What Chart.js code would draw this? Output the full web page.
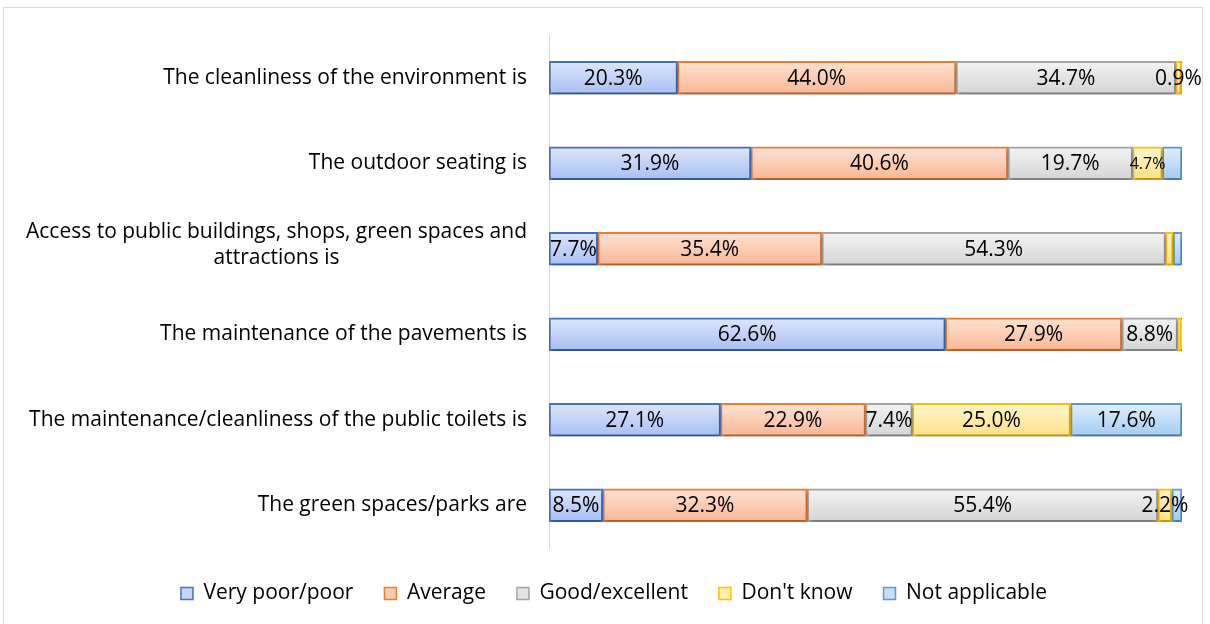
<!DOCTYPE html>
<html>
<head>
<meta charset="utf-8">
<script src="https://cdn.jsdelivr.net/npm/chart.js@4"></script>
<style>
  html, body { margin: 0; padding: 0; background: #fff; }
  #wrap { position: relative; width: 1210px; height: 624px; }
  #frame { position: absolute; left: 3px; top: 7px; width: 1200px; height: 630px; border: 1px solid #d9d9d9; box-sizing: border-box; }
  canvas { position: absolute; left: 0; top: 0; }
</style>
</head>
<body>
<div id="wrap">
  <div id="frame"></div>
  <canvas id="chart" width="1210" height="624"></canvas>
</div>
<script>
const categories = [
  ["The cleanliness of the environment is"],
  ["The outdoor seating is"],
  ["Access to public buildings, shops, green spaces and", "attractions is"],
  ["The maintenance of the pavements is"],
  ["The maintenance/cleanliness of the public toilets is"],
  ["The green spaces/parks are"]
];
const seriesNames = ["Very poor/poor", "Average", "Good/excellent", "Don't know", "Not applicable"];

const veryPoor    = [20.3, 31.9, 7.7, 62.6, 27.1, 8.5];
const average     = [44.0, 40.6, 35.4, 27.9, 22.9, 32.3];
const good        = [34.7, 19.7, 54.3, 8.8, 7.4, 55.4];
const dontKnow    = [0.9, 4.7, 1.2, 0.5, 25.0, 2.2];
const notApplic   = [0.1, 3.1, 1.4, 0.2, 17.6, 1.6];

// which value labels are drawn (per series, per row)
const showLabel = [
  [true, true, true, true, true, true],
  [true, true, true, true, true, true],
  [true, true, true, true, true, true],
  [true, true, false, false, true, true],
  [false, false, false, false, true, false]
];

const borders = ["#4472C4", "#ED7D31", "#A5A5A5", "#FFC000", "#5B9BD5"];
const topFill = ["#dde6fa", "#fde3d6", "#f3f3f3", "#fff5cf", "#e1effc"];
const botFill = ["#a8bff3", "#f9b692", "#d4d4d4", "#ffe185", "#a3cbf2"];
const legendFill = ["#c7d5f7", "#fccbb0", "#e3e3e3", "#ffedaa", "#c4def7"];

const FONT = "'Open Sans', sans-serif";
const FONT_SIZE = 21;
const BAR_H = 33;

function gradientFor(i) {
  return function (ctx) {
    const chart = ctx.chart;
    const y = chart.scales.y;
    if (!y || ctx.dataIndex === undefined) return legendFill[i];
    const c = y.getPixelForValue(ctx.dataIndex);
    const g = chart.ctx.createLinearGradient(0, c - BAR_H / 2, 0, c + BAR_H / 2);
    g.addColorStop(0, topFill[i]);
    g.addColorStop(1, botFill[i]);
    return g;
  };
}

const allSeries = [veryPoor, average, good, dontKnow, notApplic];

const datasets = allSeries.map((vals, i) => ({
  label: seriesNames[i],
  data: vals,
  backgroundColor: gradientFor(i),
  borderColor: borders[i],
  borderWidth: 2,
  borderSkipped: false,
  barThickness: BAR_H
}));

// shadows under the bars, value labels, and centred category labels
const barExtras = {
  id: "barExtras",
  beforeDatasetsDraw(chart) {
    const c = chart.ctx;
    c.save();
    c.shadowColor = "rgba(0,0,0,0.28)";
    c.shadowBlur = 4;
    c.shadowOffsetX = 1;
    c.shadowOffsetY = 3;
  },
  afterDatasetsDraw(chart) {
    const c = chart.ctx;
    c.restore();
    c.save();
    c.fillStyle = "#000";
    c.textAlign = "center";
    c.textBaseline = "middle";
    chart.data.datasets.forEach((ds, di) => {
      const meta = chart.getDatasetMeta(di);
      meta.data.forEach((bar, idx) => {
        if (!showLabel[di][idx]) return;
        const v = ds.data[idx];
        const size = (di === 3 && idx === 1) ? 16 : FONT_SIZE;
        c.font = size + "px " + FONT;
        c.fillText(v.toFixed(1) + "%", (bar.base + bar.x) / 2, bar.y + 1);
      });
    });
    // category labels
    const y = chart.scales.y;
    c.font = FONT_SIZE + "px " + FONT;
    const right = chart.chartArea.left - 22;
    categories.forEach((lines, i) => {
      const cy = y.getPixelForValue(i) + (lines.length > 1 ? -4 : 0);
      const widths = lines.map(l => c.measureText(l).width);
      const maxW = Math.max(...widths);
      const lh = 26;
      lines.forEach((l, k) => {
        const ly = cy + (k - (lines.length - 1) / 2) * lh;
        c.fillText(l, right - maxW / 2, ly);
      });
    });
    c.restore();
  }
};

new Chart(document.getElementById("chart"), {
  type: "bar",
  data: { labels: categories.map(l => l.join(" ")), datasets: datasets },
  options: {
    indexAxis: "y",
    responsive: false,
    animation: false,
    layout: { padding: { left: 46, right: 28, top: 35, bottom: 10 } },
    scales: {
      x: {
        stacked: true, min: 0, max: 100,
        ticks: { display: false },
        grid: { display: false, drawTicks: false },
        border: { display: false },
        afterFit(scale) { scale.height = 4; }
      },
      y: {
        stacked: true,
        offset: true,
        ticks: { display: false },
        grid: { display: false, drawTicks: false },
        border: { display: true, color: "#d9d9d9", width: 1 },
        afterFit(scale) { scale.width = 503; }
      }
    },
    plugins: {
      tooltip: { enabled: false },
      legend: {
        position: "bottom",
        labels: {
          font: { family: FONT, size: FONT_SIZE },
          color: "#000",
          boxWidth: 12,
          boxHeight: 12,
          padding: 31,
          generateLabels(chart) {
            return chart.data.datasets.map((ds, i) => ({
              text: ds.label,
              fillStyle: legendFill[i],
              strokeStyle: borders[i],
              lineWidth: 1.5,
              datasetIndex: i
            }));
          }
        }
      }
    }
  },
  plugins: [barExtras]
});
</script>
</body>
</html>
